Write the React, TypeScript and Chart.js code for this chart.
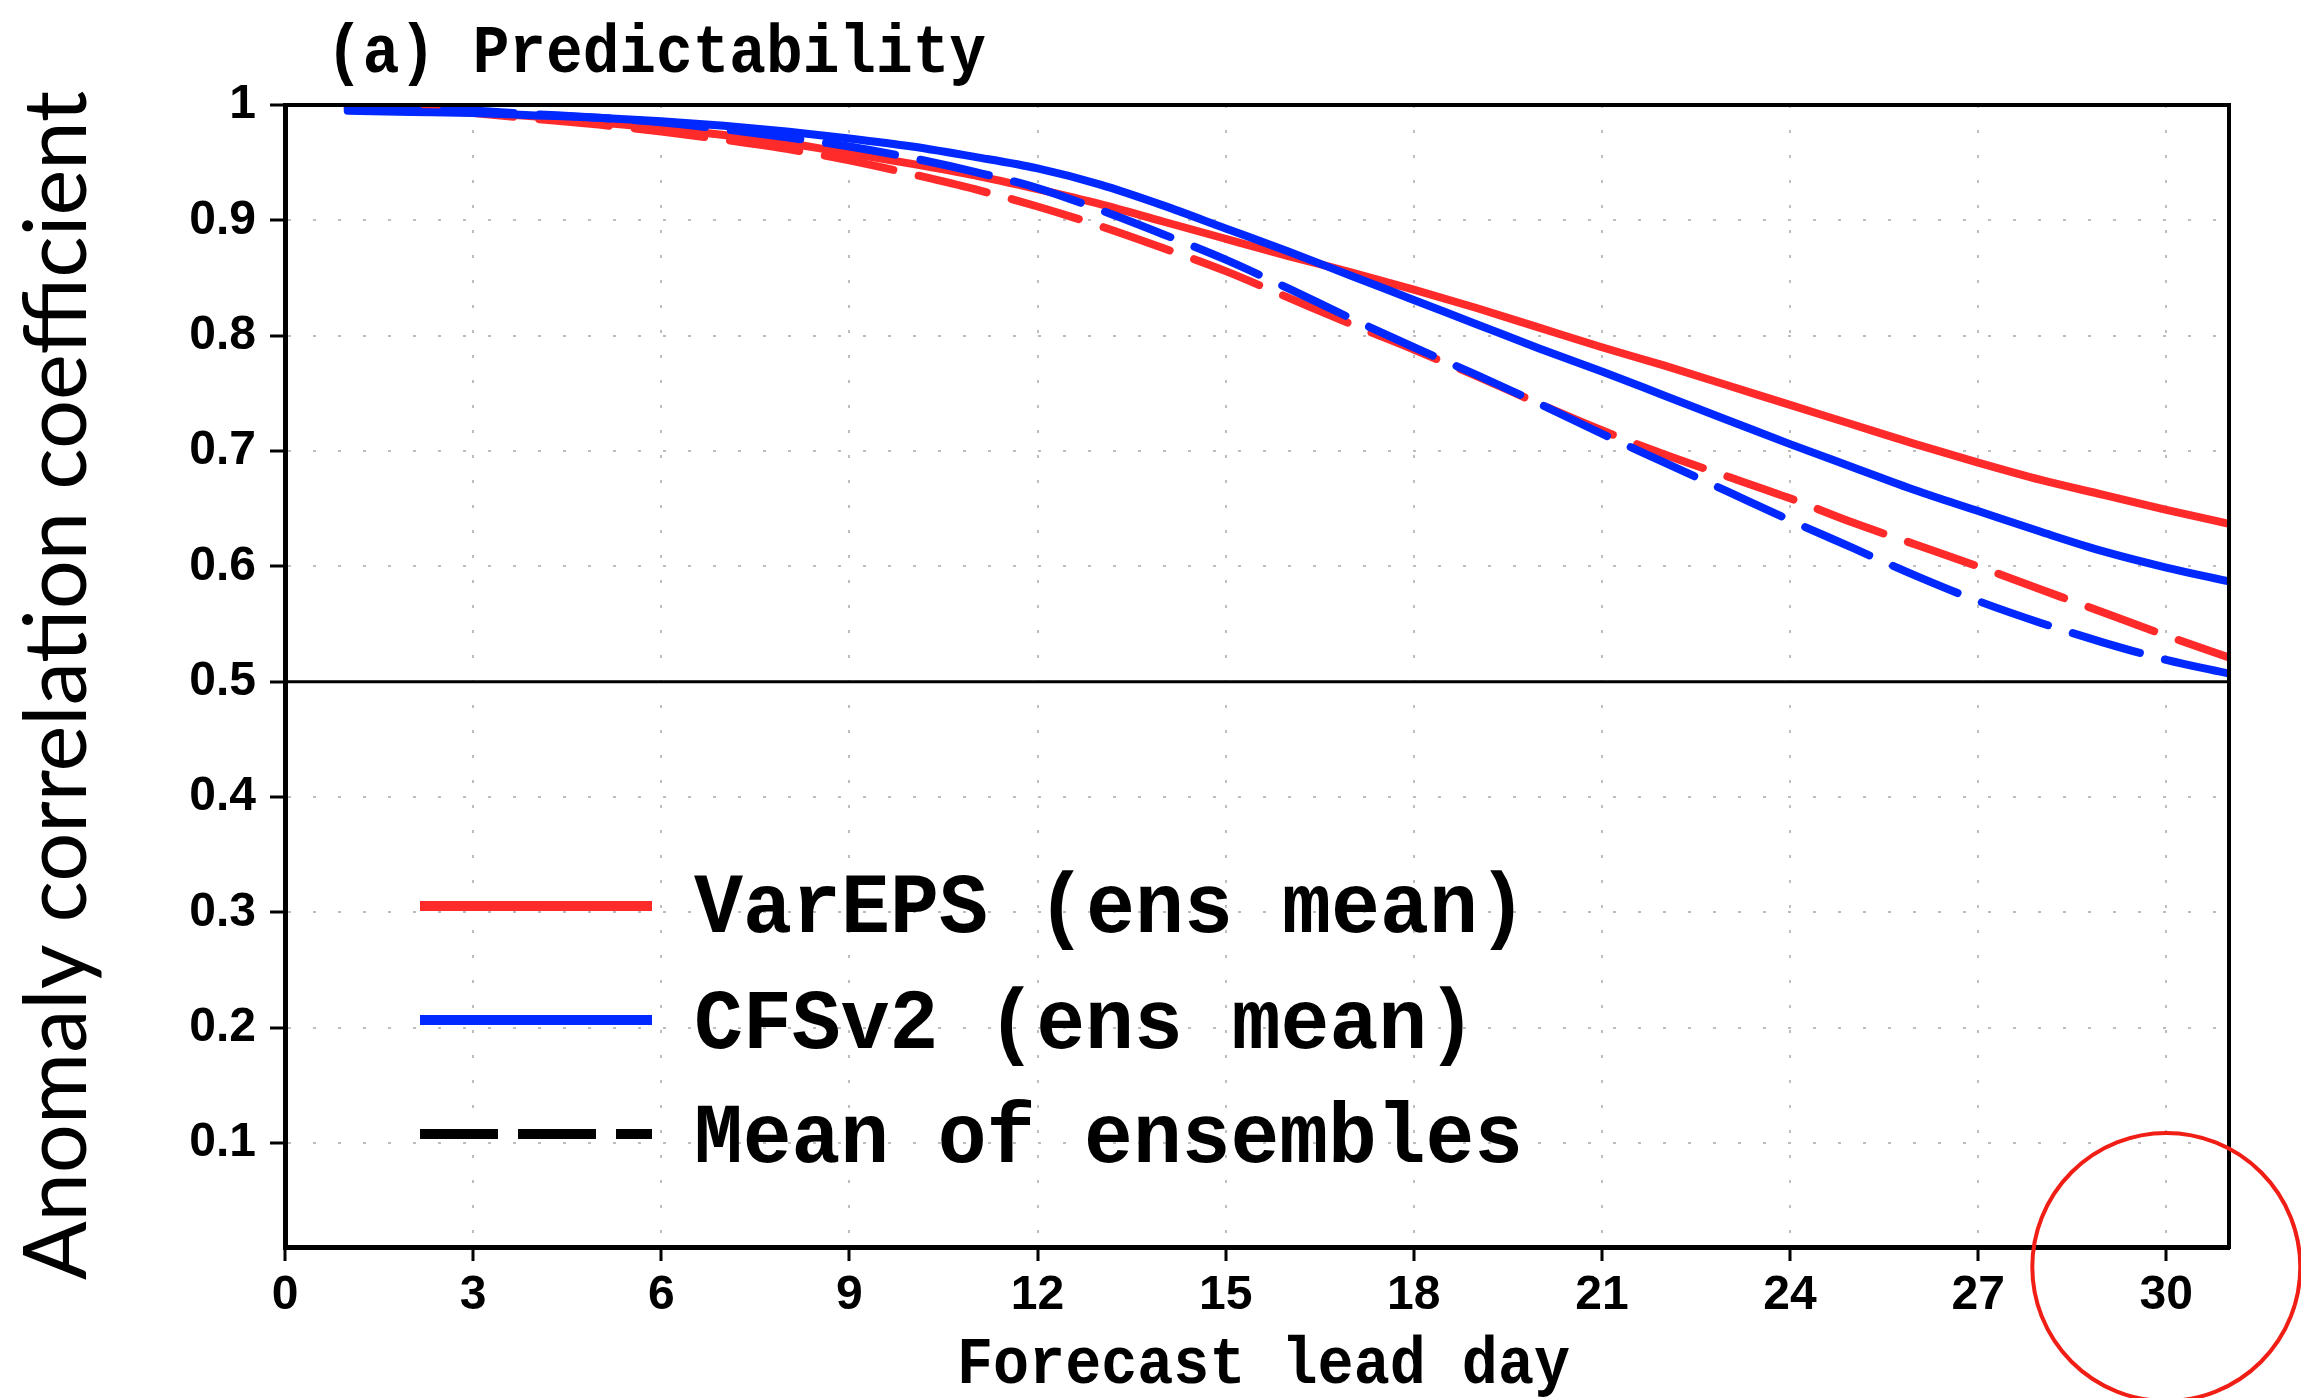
import React, { useEffect, useRef } from 'react';
import { Chart, registerables } from 'chart.js';

Chart.register(...registerables);

// Forecast lead days and anomaly correlation coefficients
const leadDays = [1, 2, 3, 4, 5, 6, 7, 8, 9, 10, 11, 12, 13, 14, 15, 16, 17, 18, 19, 20, 21, 22, 23, 24, 25, 26, 27, 28, 29, 30, 31];

const varepsEnsMean = [1.0, 0.998, 0.994, 0.99, 0.985, 0.98, 0.974, 0.967, 0.958, 0.949, 0.939, 0.927, 0.914, 0.899, 0.884, 0.869, 0.855, 0.84, 0.824, 0.807, 0.79, 0.774, 0.757, 0.74, 0.723, 0.706, 0.69, 0.675, 0.662, 0.649, 0.637];
const cfsv2EnsMean = [0.995, 0.994, 0.993, 0.991, 0.989, 0.986, 0.982, 0.977, 0.971, 0.964, 0.955, 0.945, 0.931, 0.913, 0.893, 0.873, 0.852, 0.831, 0.81, 0.789, 0.769, 0.748, 0.727, 0.706, 0.686, 0.666, 0.648, 0.63, 0.613, 0.599, 0.587];
const varepsMemberMean = [0.998, 0.997, 0.993, 0.988, 0.983, 0.977, 0.97, 0.962, 0.952, 0.94, 0.927, 0.912, 0.895, 0.876, 0.856, 0.833, 0.81, 0.788, 0.765, 0.741, 0.718, 0.697, 0.678, 0.659, 0.638, 0.619, 0.6, 0.58, 0.56, 0.54, 0.521];
const cfsv2MemberMean = [0.997, 0.996, 0.995, 0.992, 0.989, 0.985, 0.979, 0.972, 0.964, 0.954, 0.942, 0.928, 0.909, 0.888, 0.866, 0.841, 0.815, 0.79, 0.766, 0.741, 0.715, 0.69, 0.665, 0.64, 0.616, 0.592, 0.57, 0.551, 0.534, 0.519, 0.507];

const panelTitle = '(a) Predictability';
const xAxisTitle = 'Forecast lead day';
const yAxisTitle = 'Anomaly correlation coefficient';
const referenceLevel = 0.5;
const highlightedDay = 30;

const RED = '#ff2b2b';
const BLUE = '#0028ff';
const DASH = [70, 26];

const legendEntries = [
  { text: 'VarEPS (ens mean)', color: RED, dash: [] as number[] },
  { text: 'CFSv2 (ens mean)', color: BLUE, dash: [] as number[] },
  { text: 'Mean of ensembles', color: '#000000', dash: [78, 20] },
];

const MONO = '"Liberation Mono", "DejaVu Sans Mono", monospace';

const toPoints = (vals: number[]) => leadDays.map((d, i) => ({ x: d, y: vals[i] }));

// Draw a text run stretched/squeezed along its baseline to a given length
function fitText(
  ctx: CanvasRenderingContext2D,
  text: string,
  x: number,
  y: number,
  font: string,
  length: number,
  angle = 0
) {
  ctx.save();
  ctx.font = font;
  ctx.textAlign = 'left';
  ctx.textBaseline = 'alphabetic';
  ctx.fillStyle = '#000';
  const w = ctx.measureText(text).width;
  ctx.translate(x, y);
  if (angle) ctx.rotate(angle);
  ctx.scale(length / w, 1);
  ctx.fillText(text, 0, 0);
  ctx.restore();
}

const decorations = {
  id: 'decorations',
  beforeDatasetsDraw(chart: any) {
    const { ctx, chartArea: a, scales } = chart;
    const yy = scales.y.getPixelForValue(referenceLevel);
    ctx.save();
    ctx.strokeStyle = '#000';
    ctx.lineWidth = 3;
    ctx.beginPath();
    ctx.moveTo(a.left, yy);
    ctx.lineTo(a.right, yy);
    ctx.stroke();
    ctx.restore();
  },
  afterDraw(chart: any) {
    const { ctx, chartArea: a, scales } = chart;

    // top and right frame
    ctx.save();
    ctx.strokeStyle = '#000';
    ctx.lineWidth = 4;
    ctx.beginPath();
    ctx.moveTo(a.left, a.top);
    ctx.lineTo(a.right, a.top);
    ctx.lineTo(a.right, a.bottom + 2);
    ctx.stroke();
    ctx.restore();

    // panel title
    fitText(ctx, panelTitle, 326, 72, `bold 68px ${MONO}`, 660);

    // axis titles
    fitText(ctx, xAxisTitle, 957, 1383, `bold 66px ${MONO}`, 613);
    fitText(ctx, yAxisTitle, 86, 1280, '88px Lato, "Open Sans", sans-serif', 1189, -Math.PI / 2);

    // legend
    const lineX0 = 420;
    const lineX1 = 652;
    const rowY = [906, 1020, 1134];
    const baseY = [932, 1048, 1162];
    const widths = [833, 782, 829];
    legendEntries.forEach((e, i) => {
      ctx.save();
      ctx.strokeStyle = e.color;
      ctx.lineWidth = 10;
      ctx.lineCap = 'butt';
      ctx.setLineDash(e.dash);
      ctx.beginPath();
      ctx.moveTo(lineX0, rowY[i]);
      ctx.lineTo(lineX1, rowY[i]);
      ctx.stroke();
      ctx.restore();
      fitText(ctx, e.text, 694, baseY[i], `bold 86px ${MONO}`, widths[i]);
    });

    // highlight ring around the last labelled lead day
    const cx = scales.x.getPixelForValue(highlightedDay);
    ctx.save();
    ctx.strokeStyle = '#f01e14';
    ctx.lineWidth = 4;
    ctx.beginPath();
    ctx.ellipse(cx, 1267, 134, 134, 0, 0, Math.PI * 2);
    ctx.stroke();
    ctx.restore();
  },
};

export default function App() {
  const canvasRef = useRef<HTMLCanvasElement | null>(null);

  useEffect(() => {
    const canvas = canvasRef.current;
    if (!canvas) return;

    const gridStyle = {
      color: (c: any) => (c.tick && Math.abs(c.tick.value - referenceLevel) < 1e-6 ? 'rgba(0,0,0,0)' : 'rgba(0,0,0,0.26)'),
      lineWidth: 2,
      drawTicks: true,
      tickColor: '#000',
      tickWidth: 3,
      tickBorderDash: [],
    };

    const chart = new Chart(canvas, {
      type: 'line',
      data: {
        datasets: [
          {
            label: 'CFSv2 mean of ensembles',
            data: toPoints(cfsv2MemberMean),
            borderColor: BLUE,
            borderDash: DASH,
            order: 1,
          },
          {
            label: 'CFSv2 (ens mean)',
            data: toPoints(cfsv2EnsMean),
            borderColor: BLUE,
            order: 2,
          },
          {
            label: 'VarEPS mean of ensembles',
            data: toPoints(varepsMemberMean),
            borderColor: RED,
            borderDash: DASH,
            order: 3,
          },
          {
            label: 'VarEPS (ens mean)',
            data: toPoints(varepsEnsMean),
            borderColor: RED,
            order: 4,
          },
        ].map((d) => ({
          ...d,
          borderWidth: 8,
          pointRadius: 0,
          fill: false,
          borderCapStyle: 'round' as const,
          cubicInterpolationMode: 'monotone' as const,
        })),
      },
      options: {
        responsive: false,
        animation: false,
        events: [],
        layout: { padding: { left: 165, top: 105, right: 72, bottom: 51 } },
        plugins: {
          legend: { display: false },
          tooltip: { enabled: false },
          title: { display: false },
        },
        scales: {
          x: {
            type: 'linear',
            min: 0,
            max: 31,
            afterFit: (s: any) => {
              s.height = 100;
            },
            ticks: {
              stepSize: 3,
              includeBounds: false,
              color: '#000',
              padding: 6,
              maxRotation: 0,
              autoSkip: false,
              font: { family: '"Liberation Sans", Arial, sans-serif', size: 48, weight: 'bold' },
              callback: (v: any) => String(v),
            },
            grid: { ...gridStyle, tickLength: 14 },
            border: { display: true, color: '#000', width: 5, dash: [3, 22] },
          },
          y: {
            type: 'linear',
            min: 0.01,
            max: 1,
            afterFit: (s: any) => {
              s.width = 120;
            },
            ticks: {
              stepSize: 0.1,
              includeBounds: false,
              color: '#000',
              padding: 14,
              autoSkip: false,
              font: { family: '"Liberation Sans", Arial, sans-serif', size: 48, weight: 'bold' },
              callback: (v: any) => String(Math.round(Number(v) * 10) / 10),
            },
            grid: { ...gridStyle, tickLength: 15 },
            border: { display: true, color: '#000', width: 5, dash: [3, 22] },
          },
        },
      } as any,
      plugins: [decorations],
    });

    return () => chart.destroy();
  }, []);

  return (
    <div style={{ position: 'absolute', left: 0, top: 0, width: 2301, height: 1398, background: '#fff' }}>
      <canvas ref={canvasRef} width={2301} height={1398} style={{ display: 'block' }} />
    </div>
  );
}
